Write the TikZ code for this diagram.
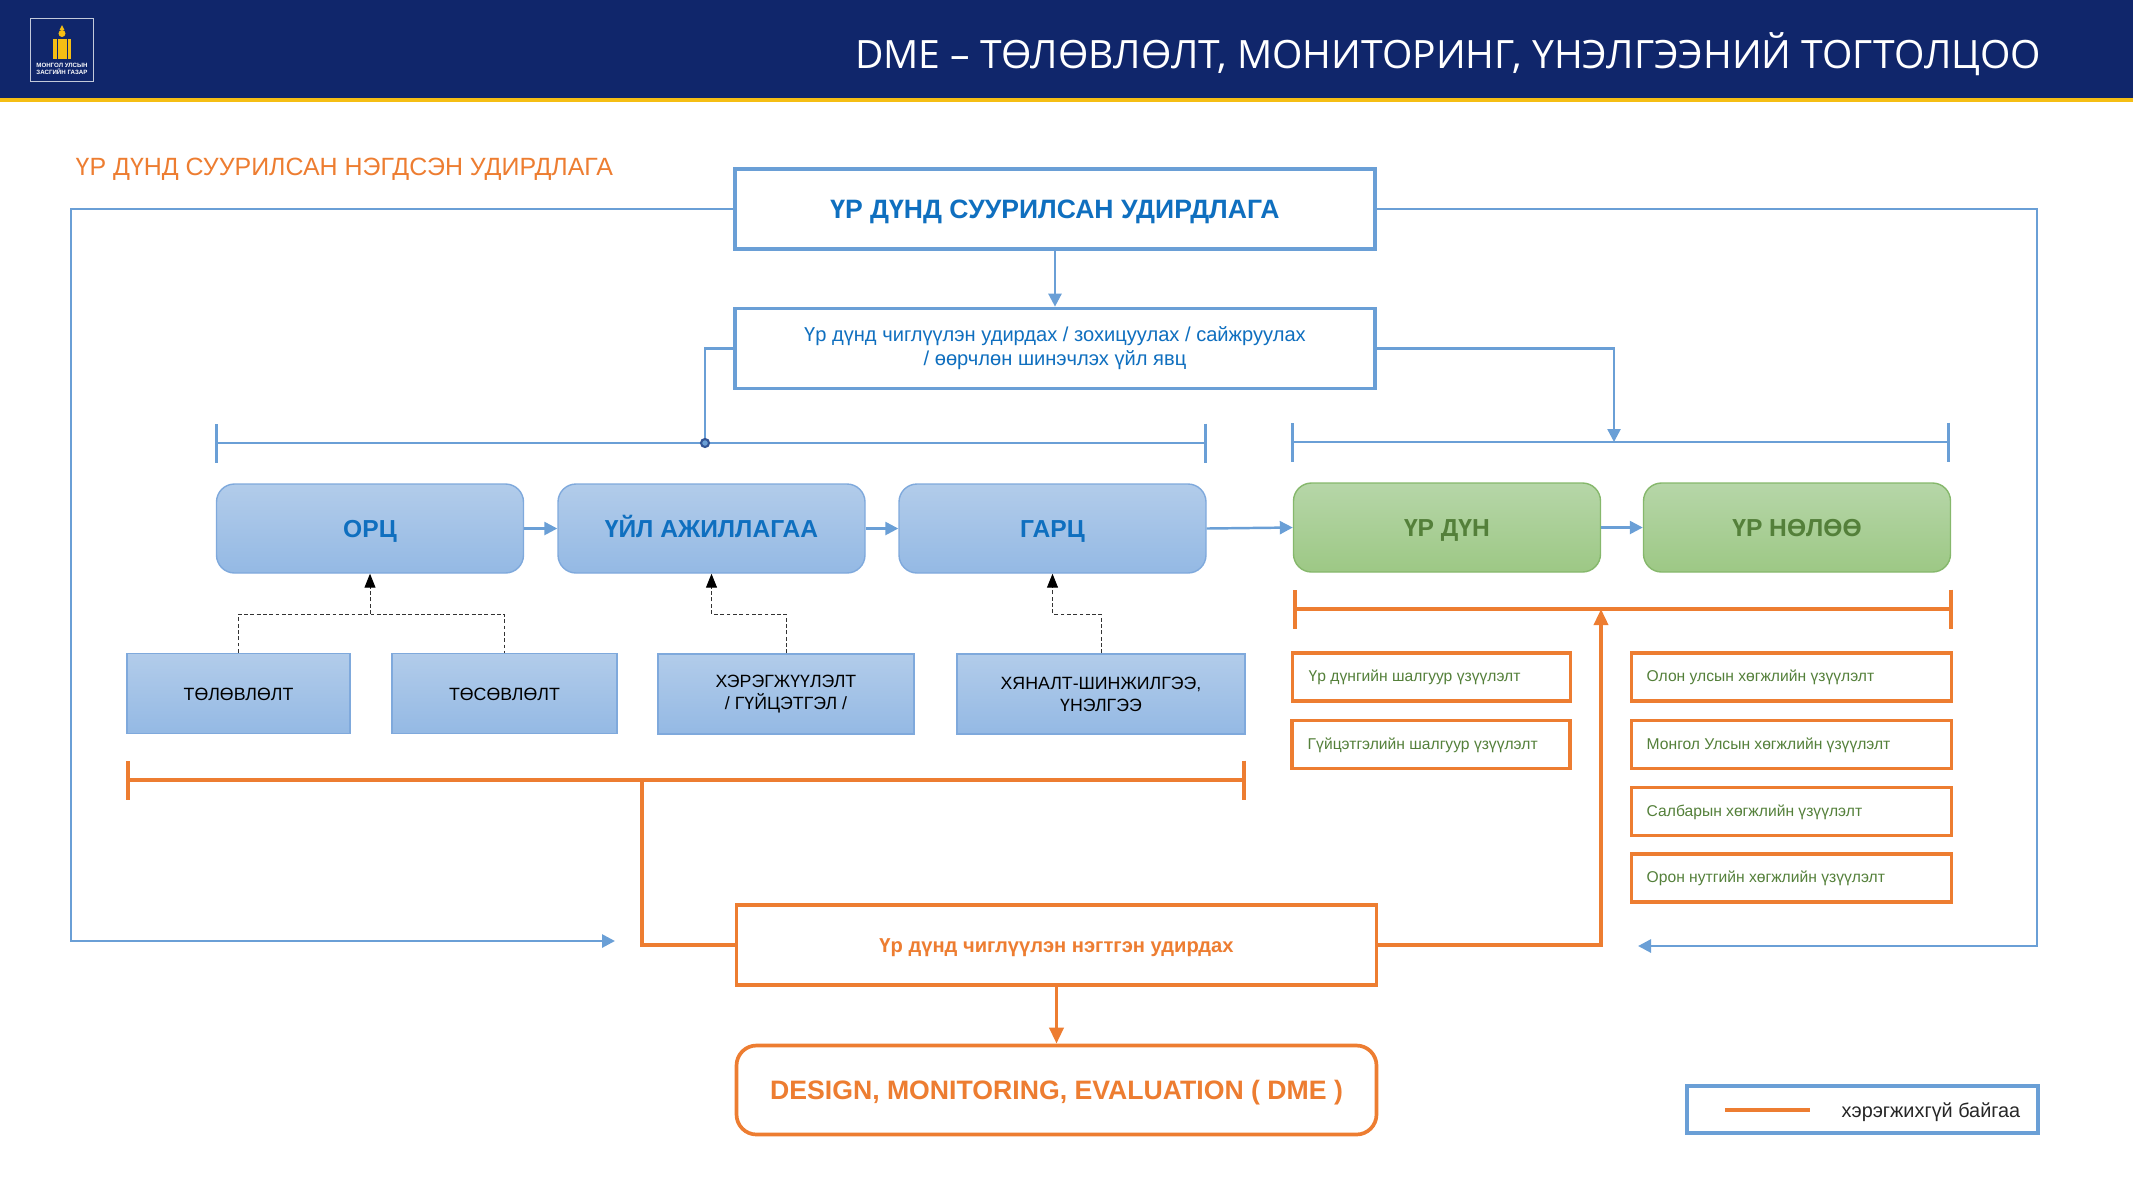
\documentclass[tikz,border=0pt]{standalone}
\usepackage{fontspec}
\setmainfont{Liberation Sans}
\newfontfamily\headfont{Open Sans}
\usetikzlibrary{arrows.meta,positioning,calc}
\definecolor{navy}{HTML}{10266B}
\definecolor{gold}{HTML}{F5BE14}
\definecolor{lineblue}{HTML}{6A9FD6}
\definecolor{textblue}{HTML}{0F6FBF}
\definecolor{orng}{HTML}{ED7D31}
\definecolor{textgreen}{HTML}{54803A}
\definecolor{bluetop}{HTML}{B2CCEA}
\definecolor{bluebot}{HTML}{94B9E4}
\definecolor{blueedge}{HTML}{7FA9DC}
\definecolor{greentop}{HTML}{B6D6A8}
\definecolor{greenbot}{HTML}{9DC885}
\definecolor{greenedge}{HTML}{86B86C}

\begin{document}
\begin{tikzpicture}[
    mainbox/.style={draw=lineblue, line width=1.05pt, minimum width=6.40cm, minimum height=0.80cm, align=center, fill=white, inner sep=0pt},
    stage/.style={draw=blueedge, rounded corners=0.18cm, minimum width=3.07cm, minimum height=0.89cm, top color=bluetop, bottom color=bluebot, font=\fontsize{7}{8}\selectfont\bfseries, text=textblue, inner sep=0pt, text height=5pt, text depth=0pt},
    gstage/.style={draw=greenedge, rounded corners=0.18cm, minimum width=3.07cm, minimum height=0.89cm, top color=greentop, bottom color=greenbot, font=\fontsize{7}{8}\selectfont\bfseries, text=textgreen, inner sep=0pt, text height=5pt, text depth=0pt},
    task/.style={draw=blueedge, minimum height=0.80cm, align=center, top color=bluetop, bottom color=bluebot, font=\fontsize{5.05}{6.2}\selectfont, inner sep=0pt},
    ind/.style={draw=orng, line width=1.1pt, minimum height=0.48cm, fill=white, inner sep=0pt},
    indl/.style={font=\fontsize{4.45}{5.5}\selectfont, text=textgreen, inner sep=0pt, anchor=west},
    arr/.style={-{Triangle[length=0.13cm,width=0.13cm]}, lineblue, line width=0.7pt},
    oarr/.style={-{Triangle[length=0.16cm,width=0.14cm]}, orng, line width=1pt},
    dline/.style={black!80, dash pattern=on 1.1pt off 0.7pt, line width=0.28pt},
    darr/.style={dline, -{Triangle[length=0.14cm,width=0.11cm,color=black,fill=black]}},
    bar/.style={{Bar[width=0.39cm,length=0.4pt]}-{Bar[width=0.39cm,length=0.4pt]}, lineblue, line width=0.8pt},
    obar/.style={{Bar[width=0.39cm,length=1pt]}-{Bar[width=0.39cm,length=1pt]}, orng, line width=1.1pt}
]
\useasboundingbox (0,0) rectangle (21.33,-12);
\fill[navy] (0,0) rectangle (21.33,-0.98);
\fill[gold] (0,-0.98) rectangle (21.33,-1.02);

\node[draw=white!75!navy, line width=0.4pt, minimum width=0.63cm, minimum height=0.63cm, inner sep=0pt] (logo) at (0.62,-0.50) {};
\fill[gold] (0.53,-0.39) rectangle (0.565,-0.59);
\fill[gold] (0.675,-0.39) rectangle (0.71,-0.59);
\fill[gold] (0.575,-0.39) rectangle (0.665,-0.59);
\fill[gold] (0.62,-0.335) circle (0.035);
\fill[gold] (0.62,-0.25) -- (0.645,-0.30) -- (0.595,-0.30) -- cycle;
\node[text=white, font=\fontsize{1.75}{2.2}\selectfont\bfseries, align=center, inner sep=0pt] (logot) at (0.62,-0.69) {МОНГОЛ УЛСЫН\\ЗАСГИЙН ГАЗАР};

\node[text=white, font=\headfont\fontsize{11.1}{12}\selectfont, anchor=east, inner sep=0pt] (title) at (20.42,-0.545) {DME – ТӨЛӨВЛӨЛТ, МОНИТОРИНГ, ҮНЭЛГЭЭНИЙ ТОГТОЛЦОО};
\node[text=orng, font=\fontsize{7.1}{8}\selectfont, anchor=west, inner sep=0pt] (sub) at (0.75,-1.69) {ҮР ДҮНД СУУРИЛСАН НЭГДСЭН УДИРДЛАГА};

\node[mainbox, text=textblue, font=\fontsize{7.56}{8}\selectfont\bfseries, text height=5.4pt, text depth=0pt] (M) at (10.55,-2.09) {ҮР ДҮНД СУУРИЛСАН УДИРДЛАГА};
\node[mainbox, text=textblue, font=\fontsize{5.72}{6.8}\selectfont] (P) at (10.55,-3.485) {Үр дүнд чиглүүлэн удирдах / зохицуулах / сайжруулах\\/ өөрчлөн шинэчлэх үйл явц};

\node[stage] (I) at (3.70,-5.285) {ОРЦ};
\node[stage] (A) at (7.115,-5.285) {ҮЙЛ АЖИЛЛАГАА};
\node[stage] (O) at (10.525,-5.285) {ГАРЦ};
\node[gstage] (R) at (14.47,-5.275) {ҮР ДҮН};
\node[gstage] (N) at (17.97,-5.275) {ҮР НӨЛӨӨ};

\node[task, minimum width=2.23cm, text height=3.7pt, text depth=0pt] (T1) at (2.385,-6.935) {ТӨЛӨВЛӨЛТ};
\node[task, minimum width=2.25cm, text height=3.7pt, text depth=0pt] (T2) at (5.045,-6.935) {ТӨСӨВЛӨЛТ};
\node[task, minimum width=2.56cm] (T3) at (7.86,-6.94) {ХЭРЭГЖҮҮЛЭЛТ\\/ ГҮЙЦЭТГЭЛ /};
\node[task, minimum width=2.88cm] (T4) at (11.01,-6.94) {ХЯНАЛТ-ШИНЖИЛГЭЭ,\\ҮНЭЛГЭЭ};

\node[ind, minimum width=2.78cm] (L1) at (14.315,-6.77) {};
\node[ind, minimum width=2.78cm] (L2) at (14.31,-7.445) {};
\node[ind, minimum width=3.20cm] (K1) at (17.915,-6.77) {};
\node[ind, minimum width=3.20cm] (K2) at (17.915,-7.445) {};
\node[ind, minimum width=3.20cm] (K3) at (17.915,-8.115) {};
\node[ind, minimum width=3.20cm] (K4) at (17.915,-8.78) {};
\node[indl] (l1) at (13.08,-6.775) {Үр дүнгийн шалгуур үзүүлэлт};
\node[indl] (l2) at (13.07,-7.45) {Гүйцэтгэлийн шалгуур үзүүлэлт};
\node[indl] (k1) at (16.46,-6.775) {Олон улсын хөгжлийн үзүүлэлт};
\node[indl] (k2) at (16.46,-7.45) {Монгол Улсын хөгжлийн үзүүлэлт};
\node[indl] (k3) at (16.46,-8.12) {Салбарын хөгжлийн үзүүлэлт};
\node[indl] (k4) at (16.46,-8.785) {Орон нутгийн хөгжлийн үзүүлэлт};

\node[draw=orng, line width=1.05pt, minimum width=6.40cm, minimum height=0.80cm, fill=white, text=orng, font=\fontsize{5.73}{7}\selectfont\bfseries, inner sep=0pt, text height=4.1pt, text depth=0pt] (C) at (10.565,-9.45) {Үр дүнд чиглүүлэн нэгтгэн удирдах};
\node[draw=orng, line width=1.05pt, rounded corners=0.2cm, minimum width=6.40cm, minimum height=0.89cm, fill=white, text=orng, font=\fontsize{7.58}{9}\selectfont\bfseries, inner sep=0pt, text height=5.4pt, text depth=0pt] (D) at (10.565,-10.90) {DESIGN, MONITORING, EVALUATION ( DME )};

\node[draw=lineblue, line width=1.05pt, minimum width=3.51cm, minimum height=0.47cm, inner sep=0pt] (key) at (18.625,-11.095) {};
\node[font=\fontsize{5.65}{7}\selectfont, text=black!85, anchor=west, inner sep=0pt] (keyt) at (18.41,-11.125) {хэрэгжихгүй байгаа};
\coordinate (ka) at (17.25,-11.10);
\coordinate (kb) at (18.10,-11.10);
\draw[orng, line width=0.9pt] (ka) -- (kb);

\coordinate (b1) at (2.15,-4.43);
\coordinate (b2) at (12.07,-4.43);
\coordinate (b3) at (12.91,-4.42);
\coordinate (b4) at (19.50,-4.42);
\coordinate (b5) at (1.26,-7.80);
\coordinate (b6) at (12.46,-7.80);
\coordinate (b7) at (12.93,-6.09);
\coordinate (b8) at (19.53,-6.09);
\draw[bar] (b1) -- (b2);
\draw[bar] (b3) -- (b4);
\draw[obar] (b5) -- (b6);
\draw[obar] (b7) -- (b8);

\coordinate (d1) at (7.05,-4.43);
\coordinate (d2) at (16.14,-4.42);
\draw[lineblue, line width=0.7pt] (P.west) -| (d1);
\node[circle, draw=navy!60!lineblue, line width=0.6pt, fill=lineblue, minimum size=0.08cm, inner sep=0pt] (dot) at (d1) {};
\draw[arr] (P.east) -| (d2);
\draw[arr] (M) -- (P);

\draw[arr] (I) -- (A);
\draw[arr] (A) -- (O);
\draw[arr] (O.east) -- (R.west);
\draw[arr] (R) -- (N);

\coordinate (j1) at (3.70,-6.14);
\coordinate (j2) at (7.115,-6.14);
\coordinate (j3) at (10.525,-6.14);
\draw[darr] (j1) -- (I.south);
\draw[dline] (T1.north) |- (j1) -| (T2.north);
\draw[darr] (T3.north) |- (j2) -- (A.south);
\draw[darr] (T4.north) |- (j3) -- (O.south);

\coordinate (m1) at (0.71,-2.09);
\coordinate (m2) at (6.15,-9.41);
\coordinate (m3) at (20.37,-2.09);
\coordinate (m4) at (16.38,-9.46);
\draw[arr, line width=0.8pt] (M.west) -- (m1) |- (m2);
\draw[arr, line width=0.8pt] (M.east) -- (m3) |- (m4);

\coordinate (e1) at (6.42,-7.80);
\coordinate (e2) at (16.01,-6.09);
\draw[orng, line width=1pt] (e1) |- (C.west);
\draw[oarr] (C.east) -| (e2);
\draw[oarr] (C) -- (D);
\end{tikzpicture}
\end{document}
